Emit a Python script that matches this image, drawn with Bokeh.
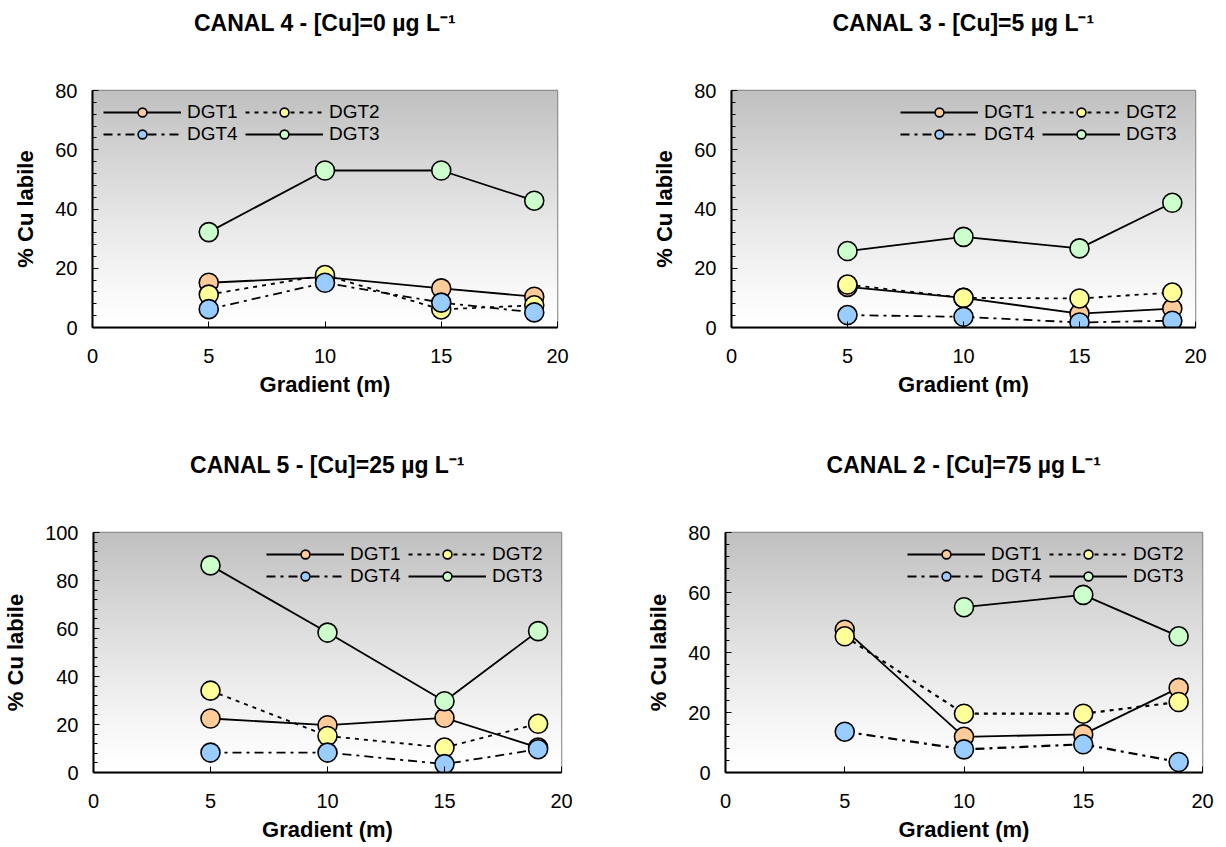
import numpy as np
from bokeh.plotting import figure
from bokeh.layouts import column, row
from bokeh.models import Range1d, Legend, LegendItem, FixedTicker, Title
from bokeh.embed import file_html
from bokeh.resources import INLINE

# ---------------- data ----------------
gradient_m = [5, 10, 15, 19]
x_ticks = [0, 5, 10, 15, 20]

titles = ["CANAL 4 - [Cu]=0 µg L⁻¹", "CANAL 3 - [Cu]=5 µg L⁻¹",
          "CANAL 5 - [Cu]=25 µg L⁻¹", "CANAL 2 - [Cu]=75 µg L⁻¹"]
y_max = [80, 80, 100, 80]

series_names = ["DGT1", "DGT2", "DGT4", "DGT3"]

c4_dgt1 = [15.1, 17.0, 13.2, 10.4]
c4_dgt2 = [11.1, 17.7, 6.1, 7.5]
c4_dgt4 = [6.2, 15.1, 8.4, 5.1]
c4_dgt3 = [32.2, 53.0, 53.0, 42.8]

c3_dgt1 = [13.7, 10.0, 4.7, 6.4]
c3_dgt2 = [14.5, 10.0, 9.8, 11.8]
c3_dgt4 = [4.2, 3.6, 1.7, 2.3]
c3_dgt3 = [25.8, 30.6, 26.7, 42.1]

c5_dgt1 = [22.5, 19.7, 22.8, 10.4]
c5_dgt2 = [34.1, 15.2, 10.4, 20.3]
c5_dgt4 = [8.3, 8.3, 3.5, 9.7]
c5_dgt3 = [86.3, 58.3, 29.7, 58.9]

c2_dgt1 = [47.6, 11.9, 12.7, 28.2]
c2_dgt2 = [45.4, 19.6, 19.6, 23.5]
c2_dgt4 = [13.6, 7.7, 9.4, 3.5]
c2_dgt3 = [float("nan"), 55.1, 59.2, 45.4]

panels_data = [
    [c4_dgt1, c4_dgt2, c4_dgt4, c4_dgt3],
    [c3_dgt1, c3_dgt2, c3_dgt4, c3_dgt3],
    [c5_dgt1, c5_dgt2, c5_dgt4, c5_dgt3],
    [c2_dgt1, c2_dgt2, c2_dgt4, c2_dgt3],
]

# ---------------- styles ----------------
FONT = "Liberation Sans"
fill_colors = ["#FFCC99", "#FFFF99", "#99CCFF", "#CCFFCC"]
dashes = ["solid", "4 5", "9 5 3 5", "solid"]

# (width, height, left, right, top, bottom, legend location)
layouts = [
    (612, 442, 92, 55, 90, 115, "top_left"),
    (604, 442, 119, 21, 90, 115, "top_right"),
    (612, 402, 93, 51, 90, 71, "top_right"),
    (604, 402, 113, 14, 90, 71, "top_right"),
]


def gradient_image():
    n = 256
    img = np.empty((n, 1), dtype=np.uint32)
    view = img.view(dtype=np.uint8).reshape((n, 1, 4))
    for i in range(n):
        t = i / (n - 1)
        g = int(round(255 - 63 * t ** 1.2))
        view[i, 0, 0] = g
        view[i, 0, 1] = g
        view[i, 0, 2] = g
        view[i, 0, 3] = 255
    return img


def make_panel(k):
    w, h, bl, br, bt, bb, loc = layouts[k]
    ym = y_max[k]
    p = figure(width=w, height=h, output_backend="svg", toolbar_location=None,
               x_range=Range1d(0, 20), y_range=Range1d(0, ym),
               min_border_left=bl, min_border_right=br,
               min_border_top=bt, min_border_bottom=bb)
    p.background_fill_color = "white"
    p.border_fill_color = "white"
    p.outline_line_color = "#808080"
    p.outline_line_width = 1.5
    p.grid.visible = False

    p.image_rgba(image=[gradient_image()], x=0, y=0, dw=20, dh=ym)

    # title: a spacer keeps the title well above the frame
    p.title.text = ""
    spacer = Title(text=" ", text_font_size="2px", standoff=48)
    p.add_layout(spacer, "above")
    main = Title(text=titles[k], align="center", text_font=FONT,
                 text_font_size="23px", text_font_style="bold",
                 text_color="black", standoff=6)
    p.add_layout(main, "above")

    # axes
    p.xaxis.ticker = FixedTicker(ticks=x_ticks)
    p.yaxis.ticker = FixedTicker(ticks=list(range(0, ym + 1, 20)),
                                 minor_ticks=list(range(0, ym + 1, 4)))
    for ax in (p.xaxis[0], p.yaxis[0]):
        ax.major_label_text_font = FONT
        ax.major_label_text_font_size = "20px"
        ax.major_label_text_color = "black"
        ax.axis_label_text_font = FONT
        ax.axis_label_text_font_size = "22px"
        ax.axis_label_text_font_style = "bold"
        ax.axis_label_text_color = "black"
        ax.axis_line_color = "black"
        ax.axis_line_width = 2
        ax.major_tick_in = 6
        ax.major_tick_out = 0
        ax.major_tick_line_color = "black"
        ax.minor_tick_in = 4
        ax.minor_tick_out = 0
        ax.minor_tick_line_color = "black"
    p.xaxis.axis_label = "Gradient (m)"
    p.yaxis.axis_label = "% Cu labile"
    p.xaxis.major_label_standoff = 21
    p.xaxis.axis_label_standoff = 6
    p.yaxis.major_label_standoff = 15
    p.yaxis.axis_label_standoff = 14

    lw_dash = 2.2 if k == 3 else 1.8
    renderers = []
    for j, vals in enumerate(panels_data[k]):
        lw = 1.8 if dashes[j] == "solid" else lw_dash
        ln = p.line(gradient_m, vals, line_color="black", line_width=lw,
                    line_dash=dashes[j])
        sc = p.scatter(gradient_m, vals, size=19, marker="circle",
                       fill_color=fill_colors[j], line_color="black",
                       line_width=1.6)
        renderers.append((ln, sc))

    items = [LegendItem(label=series_names[j], renderers=list(renderers[j]))
             for j in range(4)]
    # column-major order so rows read DGT1 DGT2 / DGT4 DGT3
    legend = Legend(items=[items[0], items[2], items[1], items[3]], ncols=2,
                    location=loc)
    legend.background_fill_alpha = 0
    legend.border_line_alpha = 0
    legend.label_text_font = FONT
    legend.label_text_font_size = "19px"
    legend.label_text_color = "black"
    legend.glyph_width = 78
    legend.glyph_height = 22
    legend.label_height = 20
    legend.label_width = 58
    legend.label_standoff = 6
    legend.spacing = 0
    legend.padding = 5
    legend.margin = 6
    p.add_layout(legend)
    return p


plots = [make_panel(k) for k in range(4)]
layout = column(row(plots[0], plots[1]), row(plots[2], plots[3]))

open("out.html", "w").write(file_html(layout, INLINE))
